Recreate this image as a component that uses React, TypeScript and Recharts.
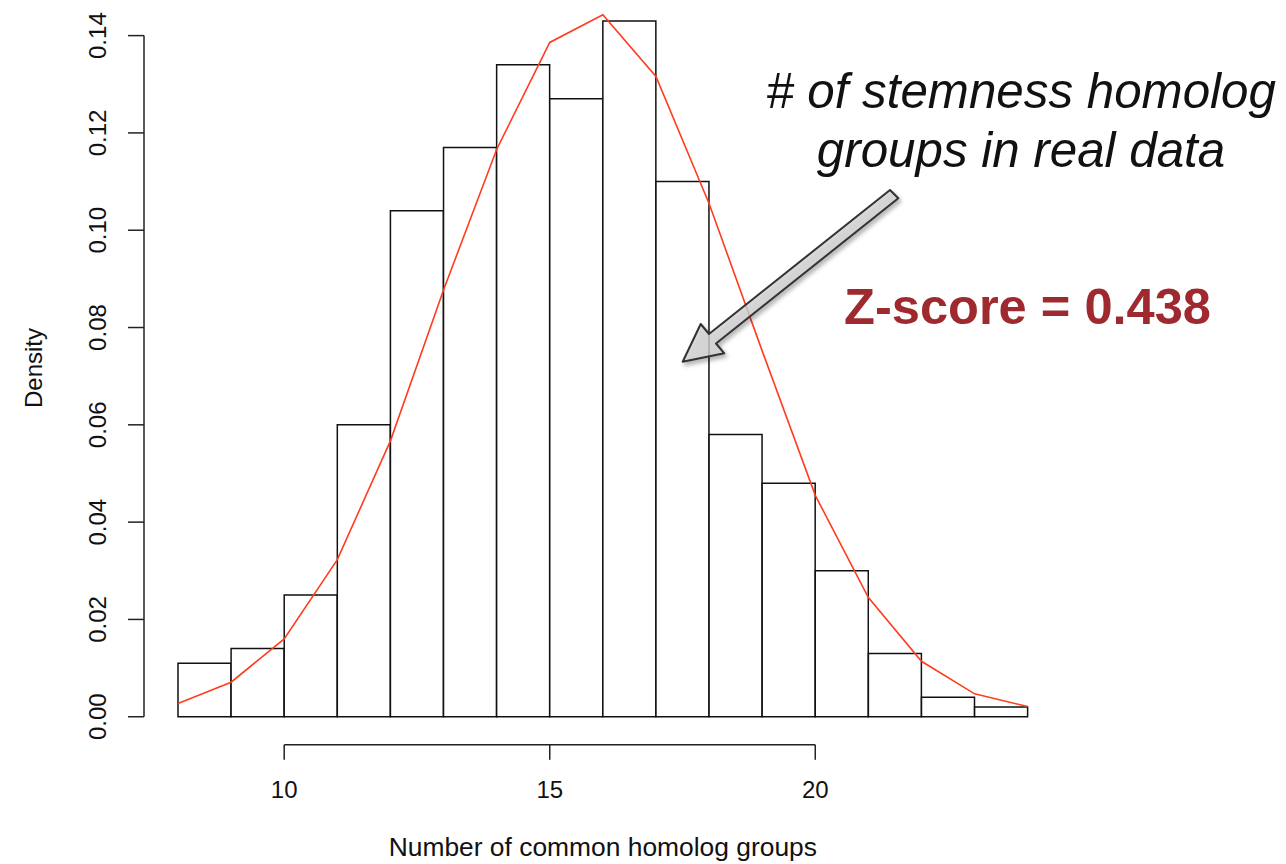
import React from 'react';
import {
  ComposedChart,
  Bar,
  Line,
  XAxis,
  YAxis,
  ReferenceLine,
} from 'recharts';

// histogram bins (width 1) and their densities
const binStarts = [8, 9, 10, 11, 12, 13, 14, 15, 16, 17, 18, 19, 20, 21, 22, 23];
const binDensity = [
  0.011, 0.014, 0.025, 0.060, 0.104, 0.117, 0.134, 0.127,
  0.143, 0.110, 0.058, 0.048, 0.030, 0.013, 0.004, 0.002,
];

// fitted curve (red line), evaluated at integer counts
const curveX = [8, 9, 10, 11, 12, 13, 14, 15, 16, 17, 18, 19, 20, 21, 22, 23, 24];
const curveDensity = [
  0.0027, 0.0071, 0.0160, 0.0323, 0.0567, 0.0877, 0.1166, 0.1386, 0.1443,
  0.1316, 0.1055, 0.0752, 0.0455, 0.0245, 0.0114, 0.0047, 0.0021,
];

const xTicks = [10, 15, 20];
const yTicks = [0, 0.02, 0.04, 0.06, 0.08, 0.1, 0.12, 0.14];

const xLabel = 'Number of common homolog groups';
const yLabel = 'Density';
const noteLines = ['# of stemness homolog', 'groups in real data'];
const zScoreText = 'Z-score = 0.438';

// R style 4% padding around the data range
const X_DOMAIN: [number, number] = [7.36, 24.64];
const Y_DOMAIN: [number, number] = [-0.00577, 0.14732];

const bins = binStarts.map((s, i) => ({ mid: s + 0.5, density: binDensity[i] }));
const curve = curveX.map((x, i) => ({ x, density: curveDensity[i] }));

const FONT = '"Liberation Sans", Arial, Helvetica, sans-serif';

const XTick = (props: any) => {
  const { x, y, payload } = props;
  return (
    <text x={x} y={y + 38} textAnchor="middle" fontSize={24} fontFamily={FONT} fill="#111">
      {payload.value}
    </text>
  );
};

const YTick = (props: any) => {
  const { y, payload } = props;
  const bx = 105.6;
  return (
    <text
      x={bx}
      y={y}
      textAnchor="middle"
      fontSize={24}
      fontFamily={FONT}
      fill="#111"
      transform={`rotate(-90, ${bx}, ${y})`}
    >
      {Number(payload.value).toFixed(2)}
    </text>
  );
};

const Annotations = () => (
  <svg
    width={1286}
    height={864}
    style={{ position: 'absolute', left: 0, top: 0, pointerEvents: 'none' }}
  >
    <defs>
      <linearGradient id="arrowFill" x1="0" y1="0" x2="1" y2="1">
        <stop offset="0%" stopColor="#e6e6e6" />
        <stop offset="100%" stopColor="#bdbdbd" />
      </linearGradient>
      <filter id="arrowShadow" x="-20%" y="-20%" width="140%" height="140%">
        <feDropShadow dx="2" dy="3" stdDeviation="2" floodColor="#000" floodOpacity="0.35" />
      </filter>
    </defs>
    <polygon
      points="890,190 709,334 700.7,324 682.7,361.7 724.3,353.3 716,343.5 898.3,198.3"
      fill="url(#arrowFill)"
      fillOpacity={0.75}
      stroke="#333"
      strokeWidth={2}
      strokeLinejoin="round"
      filter="url(#arrowShadow)"
    />
    {noteLines.map((t, i) => (
      <text
        key={t}
        x={1021}
        y={108 + i * 59}
        textAnchor="middle"
        fontSize={49.3}
        fontStyle="italic"
        fontFamily={FONT}
        fill="#111"
      >
        {t}
      </text>
    ))}
    <text
      x={1027.5}
      y={324}
      textAnchor="middle"
      fontSize={50.6}
      fontWeight="bold"
      fontFamily={FONT}
      fill="#9e2a2f"
    >
      {zScoreText}
    </text>
  </svg>
);

export default function App() {
  return (
    <div style={{ position: 'absolute', left: 0, top: 0, width: 1286, height: 864, background: '#fff' }}>
      <ComposedChart
        width={1286}
        height={864}
        data={bins}
        margin={{ top: 0, right: 224.3, bottom: 59.2, left: 0 }}
        barCategoryGap={0}
        barGap={0}
      >
        <XAxis
          xAxisId="bins"
          type="number"
          dataKey="mid"
          domain={X_DOMAIN}
          allowDataOverflow
          ticks={xTicks}
          height={60}
          axisLine={false}
          tickLine={{ stroke: '#222', strokeWidth: 1.5 }}
          tickSize={15}
          tickMargin={0}
          tick={<XTick />}
          label={{
            content: (p: any) => {
              const vb = p.viewBox || {};
              return (
                <text
                  x={vb.x + vb.width / 2}
                  y={vb.y + 111}
                  textAnchor="middle"
                  fontSize={26.4}
                  fontFamily={FONT}
                  fill="#111"
                >
                  {xLabel}
                </text>
              );
            },
          }}
        />
        <XAxis
          xAxisId="curve"
          type="number"
          dataKey="x"
          domain={X_DOMAIN}
          allowDataOverflow
          hide
        />
        <YAxis
          type="number"
          domain={Y_DOMAIN}
          allowDataOverflow
          ticks={yTicks}
          width={144}
          axisLine={false}
          tickLine={{ stroke: '#222', strokeWidth: 1.5 }}
          tickSize={16}
          tickMargin={0}
          tick={<YTick />}
          label={{
            content: () => (
              <text
                x={41.6}
                y={368}
                textAnchor="middle"
                fontSize={24}
                fontFamily={FONT}
                fill="#111"
                transform="rotate(-90, 41.6, 368)"
              >
                {yLabel}
              </text>
            ),
          }}
        />
        <ReferenceLine
          xAxisId="bins"
          segment={[
            { x: X_DOMAIN[0], y: yTicks[0] },
            { x: X_DOMAIN[0], y: yTicks[yTicks.length - 1] },
          ]}
          stroke="#222"
          strokeWidth={1.5}
          ifOverflow="visible"
        />
        <ReferenceLine
          xAxisId="bins"
          segment={[
            { x: xTicks[0], y: Y_DOMAIN[0] },
            { x: xTicks[xTicks.length - 1], y: Y_DOMAIN[0] },
          ]}
          stroke="#222"
          strokeWidth={1.5}
          ifOverflow="visible"
        />
        <Bar
          xAxisId="bins"
          dataKey="density"
          fill="#fff"
          stroke="#111"
          strokeWidth={1.5}
          isAnimationActive={false}
        />
        <Line
          xAxisId="curve"
          data={curve}
          dataKey="density"
          type="linear"
          stroke="#ff3c1e"
          strokeWidth={1.6}
          dot={false}
          activeDot={false}
          isAnimationActive={false}
        />
      </ComposedChart>
      <Annotations />
    </div>
  );
}
